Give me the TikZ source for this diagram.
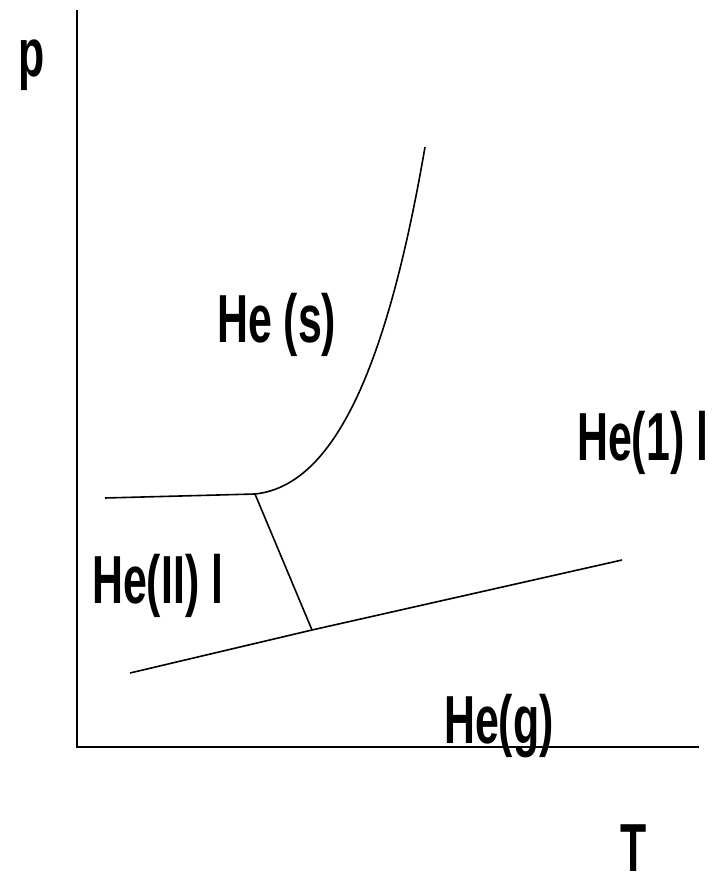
\documentclass[tikz,border=0pt]{standalone}
\usepackage{fontspec}
\setmainfont{Liberation Sans}[FakeStretch=0.63]
\begin{document}
\begin{tikzpicture}[x=1pt, y=-1pt, every node/.style={font=\fontsize{68}{70}\selectfont\bfseries, inner sep=0pt, anchor=base west}, axis/.style={line width=2.6pt}, phase/.style={line width=1.6pt}]
	\useasboundingbox (0,0) rectangle (722,877);
	\coordinate (O) at (77,747);
	\coordinate (ytop) at (77,10);
	\coordinate (xend) at (699,747);
	\draw[axis] (ytop) -- (O) -- (xend);
	\node (p) at (18,77) {p};
	\node (T) at (620,871) {T};
	% phase boundaries
	\coordinate (sl0) at (105,498);
	\coordinate (lam1) at (255,494);
	\coordinate (lam2) at (312,630);
	\coordinate (slend) at (425,147);
	\coordinate (g0) at (130,673);
	\coordinate (g1) at (622,560);
	\draw[phase] (sl0) -- (lam1) .. controls (330,486) and (385,380) .. (slend);
	\draw[phase] (lam1) -- (lam2);
	\draw[phase] (g0) -- (lam2) -- (g1);
	\node (sol) at (217,342) {He (s)};
	\node (liqI) at (577,460) {He(1) l};
	\node (liqII) at (92,603) {He(II) l};
	\node (gas) at (444,743) {He(g)};
\end{tikzpicture}
\end{document}
